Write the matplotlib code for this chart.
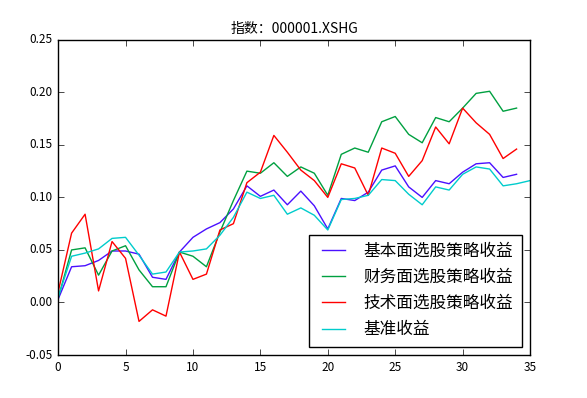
import matplotlib
matplotlib.use('Agg')
import matplotlib.pyplot as plt

# cumulative returns
days = list(range(35))
days_bench = list(range(36))

fundamental = [0.003, 0.034, 0.035, 0.040, 0.049, 0.049, 0.046, 0.024, 0.022, 0.048,
               0.062, 0.070, 0.076, 0.089, 0.111, 0.101, 0.107, 0.093, 0.106, 0.092,
               0.070, 0.099, 0.097, 0.105, 0.126, 0.130, 0.110, 0.100, 0.116, 0.113,
               0.124, 0.132, 0.133, 0.119, 0.122]
financial = [0.004, 0.050, 0.052, 0.026, 0.049, 0.054, 0.031, 0.015, 0.015, 0.048,
             0.044, 0.034, 0.067, 0.097, 0.125, 0.123, 0.133, 0.120, 0.129, 0.123,
             0.102, 0.141, 0.147, 0.143, 0.172, 0.177, 0.160, 0.152, 0.176, 0.172,
             0.185, 0.199, 0.201, 0.182, 0.185]
technical = [0.010, 0.066, 0.084, 0.011, 0.058, 0.042, -0.018, -0.007, -0.013, 0.048,
             0.022, 0.027, 0.069, 0.075, 0.114, 0.124, 0.159, 0.143, 0.126, 0.116,
             0.100, 0.132, 0.128, 0.102, 0.147, 0.142, 0.120, 0.135, 0.167, 0.151,
             0.185, 0.171, 0.160, 0.137, 0.146]
benchmark = [0.005, 0.044, 0.047, 0.051, 0.061, 0.062, 0.045, 0.027, 0.029, 0.048,
             0.049, 0.051, 0.064, 0.081, 0.105, 0.099, 0.102, 0.084, 0.090, 0.083,
             0.069, 0.098, 0.099, 0.102, 0.117, 0.116, 0.103, 0.093, 0.110, 0.107,
             0.122, 0.129, 0.127, 0.111, 0.113, 0.116]

labels = ['基本面选股策略收益', '财务面选股策略收益', '技术面选股策略收益', '基准收益']
title = '指数：000001.XSHG'

plt.style.use('classic')
plt.rcParams['font.family'] = ['Noto Sans CJK SC', 'DejaVu Sans']
plt.rcParams['figure.facecolor'] = 'white'
plt.rcParams['savefig.facecolor'] = 'white'

fig = plt.figure(figsize=(5.87, 3.98), dpi=100)
ax = fig.add_axes([0.099, 0.108, 0.804, 0.792])

ax.plot(days, fundamental, color='#4a10ff', lw=1.0, label=labels[0])
ax.plot(days, financial, color='#00a040', lw=1.0, label=labels[1])
ax.plot(days, technical, color='#ff0000', lw=1.0, label=labels[2])
ax.plot(days_bench, benchmark, color='#00cccc', lw=1.0, label=labels[3])

ax.set_xlim(0, 35)
ax.set_ylim(-0.05, 0.25)
ax.set_yticks([-0.05, 0.0, 0.05, 0.10, 0.15, 0.20, 0.25])
ax.set_yticklabels(['-0.05', '0.00', '0.05', '0.10', '0.15', '0.20', '0.25'])
ax.tick_params(labelsize=8.5)
ax.set_title(title, fontsize=10)

ax.legend(loc='lower right', fontsize=12, handlelength=2.0, handletextpad=0.8,
          labelspacing=0.55, borderpad=0.5)

fig.savefig('out.png', dpi=100)
